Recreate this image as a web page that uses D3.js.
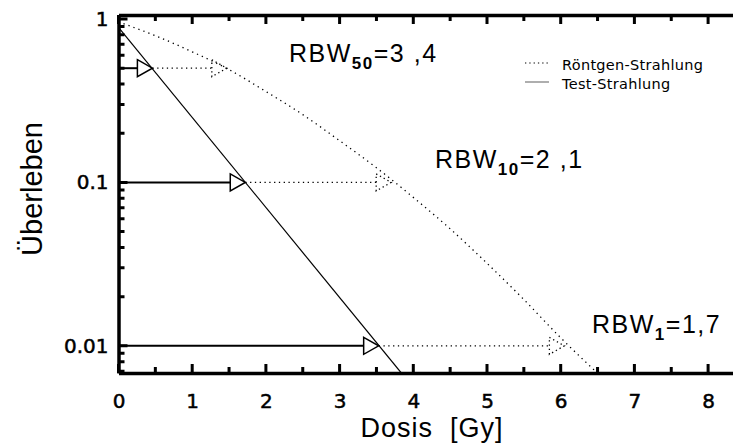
<!DOCTYPE html>
<html>
<head>
<meta charset="utf-8">
<script src="https://cdn.jsdelivr.net/npm/d3@7"></script>
<style>
  body { margin: 0; background: #fff; }
  svg { display: block; font-family: "Liberation Sans", Arial, sans-serif; }
</style>
</head>
<body>
<div id="chart"></div>
<script>
// values
const xrayDose = [0, 0.5, 1, 1.5, 2, 2.5, 3, 3.5, 4, 4.5, 5, 5.5, 6, 6.5];
const xraySurv = [0.96, 0.79, 0.63, 0.49, 0.36, 0.26, 0.18, 0.123, 0.081, 0.052, 0.032, 0.0192, 0.0112, 0.0068];
const testDose = [0, 3.84];
const testSurv = [0.89, 0.0068];

const levels = [0.5, 0.1, 0.01];
const testAt = [0.46, 1.72, 3.53];
const xrayAt = [1.47, 3.7, 6.05];
const rbwSub = ["50", "10", "1"];
const rbwVal = ["3 ,4", "2 ,1", "1,7"];

const xTicks = [0, 1, 2, 3, 4, 5, 6, 7, 8];
const yTicks = [0.01, 0.1, 1];
const yTickLabels = ["0.01", "0.1", "1"];

document.addEventListener('DOMContentLoaded', function() {
    const W = 733, H = 444;
    const svg = d3.select('#chart').append('svg')
        .attr('width', W)
        .attr('height', H);

    const x = d3.scaleLinear().domain([0, 8.5]).range([118.5, 118.5 + 8.5 * 73.7]);
    const y = d3.scaleLog().domain([0.00682, 1.058]).range([373, 15]);

    const xa = x.range()[0], xb = x.range()[1];
    const ya = y.range()[0], yb = y.range()[1];

    svg.append('clipPath').attr('id', 'clip')
        .append('rect').attr('x', xa).attr('y', yb).attr('width', xb - xa).attr('height', ya - yb);

    const halfTicks = d3.range(0.5, 8.5, 1);
    const minorY = [];
    [0.001, 0.01, 0.1].forEach(d => { for (let k = 2; k <= 9; k++) minorY.push(d * k); });
    const minorYIn = minorY.filter(v => v >= y.domain()[0] && v <= 1);

    // axes: lines + labels
    svg.append('g').attr('class', 'ax').attr('transform', `translate(0,${ya})`)
        .call(d3.axisBottom(x).tickValues(xTicks).tickFormat(d3.format('d'))
            .tickSize(0).tickPadding(21));
    svg.append('g').attr('class', 'ax').attr('transform', `translate(0,${yb})`)
        .call(d3.axisTop(x).tickValues([]).tickSize(0));
    svg.append('g').attr('class', 'ax').attr('transform', `translate(${xa},0)`)
        .call(d3.axisLeft(y).tickValues(yTicks).tickFormat((d, i) => yTickLabels[i])
            .tickSize(0).tickPadding(10));

    svg.selectAll('.ax .domain').attr('stroke', '#000').attr('stroke-width', 3.5);
    svg.selectAll('.ax .tick text').attr('font-size', 20).attr('fill', '#000')
        .attr('stroke', '#000').attr('stroke-width', 0.5)
        .attr('font-family', '"DejaVu Sans", sans-serif');

    // inward ticks as one path
    const p = d3.path();
    xTicks.forEach(v => {
        p.moveTo(x(v), ya); p.lineTo(x(v), ya - 9);
        p.moveTo(x(v), yb); p.lineTo(x(v), yb + 9);
    });
    halfTicks.forEach(v => {
        p.moveTo(x(v), ya); p.lineTo(x(v), ya - 6);
        p.moveTo(x(v), yb); p.lineTo(x(v), yb + 6);
    });
    yTicks.forEach(v => { p.moveTo(xa, y(v)); p.lineTo(xa + 9, y(v)); });
    minorYIn.forEach(v => { p.moveTo(xa, y(v)); p.lineTo(xa + 6, y(v)); });
    svg.append('path').attr('d', p.toString())
        .attr('fill', 'none').attr('stroke', '#000').attr('stroke-width', 3);

    const g = svg.append('g').attr('clip-path', 'url(#clip)');

    // Röntgen curve
    g.append('path')
        .datum(xrayDose.map((d, i) => [d, xraySurv[i]]))
        .attr('d', d3.line().x(d => x(d[0])).y(d => y(d[1])).curve(d3.curveMonotoneX))
        .attr('fill', 'none').attr('stroke', '#000').attr('stroke-width', 1.3)
        .attr('stroke-dasharray', '1.3 4');

    // Test line
    g.append('path')
        .datum(testDose.map((d, i) => [d, testSurv[i]]))
        .attr('d', d3.line().x(d => x(d[0])).y(d => y(d[1])))
        .attr('fill', 'none').attr('stroke', '#000').attr('stroke-width', 1.2);

    const tri = (tipX, cy) => `M${tipX - 15},${cy - 8.5}L${tipX},${cy}L${tipX - 15},${cy + 8.5}Z`;

    levels.forEach((lv, i) => {
        const cy = y(lv);
        const tx = x(testAt[i]), rx = x(xrayAt[i]);
        svg.append('line').attr('x1', xa).attr('x2', tx - 15).attr('y1', cy).attr('y2', cy)
            .attr('stroke', '#000').attr('stroke-width', 2);
        svg.append('path').attr('d', tri(tx, cy))
            .attr('fill', 'none').attr('stroke', '#000').attr('stroke-width', 1.5);
        svg.append('line').attr('x1', tx).attr('x2', rx - 15).attr('y1', cy).attr('y2', cy)
            .attr('stroke', '#000').attr('stroke-width', 1.3).attr('stroke-dasharray', '1.3 3.5');
        svg.append('path').attr('d', tri(rx, cy))
            .attr('fill', 'none').attr('stroke', '#000').attr('stroke-width', 1.3)
            .attr('stroke-dasharray', '1.3 3');
    });

    // RBW labels
    const rbwPos = [[289, 62], [435, 168], [592, 333]];
    rbwSub.forEach((s, i) => {
        const t = svg.append('text').attr('x', rbwPos[i][0]).attr('y', rbwPos[i][1])
            .attr('font-size', 25).attr('letter-spacing', 1.5).attr('fill', '#000');
        t.append('tspan').text('RBW');
        t.append('tspan').attr('dy', 7).attr('font-size', 17).attr('font-weight', 'bold').text(s);
        t.append('tspan').attr('dy', -7).text('=' + rbwVal[i]);
    });

    // legend
    const legend = [["Röntgen-Strahlung", '1.3 3'], ["Test-Strahlung", null]];
    legend.forEach((l, i) => {
        const ly = 63 + i * 19;
        const ln = svg.append('line').attr('x1', 525).attr('x2', 549).attr('y1', ly).attr('y2', ly)
            .attr('stroke', i ? '#777' : '#000').attr('stroke-width', 1.2);
        if (l[1]) ln.attr('stroke-dasharray', l[1]);
        svg.append('text').attr('x', 562).attr('y', ly + 7).attr('font-size', 14.5)
            .attr('letter-spacing', 0.3)
            .attr('font-family', '"DejaVu Sans", sans-serif').text(l[0]);
    });

    // axis titles
    svg.append('text').attr('x', 432).attr('y', 437).attr('text-anchor', 'middle')
        .attr('font-size', 27).attr('letter-spacing', 1).style('white-space', 'pre').text('Dosis  [Gy]');
    svg.append('text').attr('transform', 'translate(42,189) rotate(-90)').attr('text-anchor', 'middle')
        .attr('font-size', 29).text('Überleben');
});
</script>
</body>
</html>
